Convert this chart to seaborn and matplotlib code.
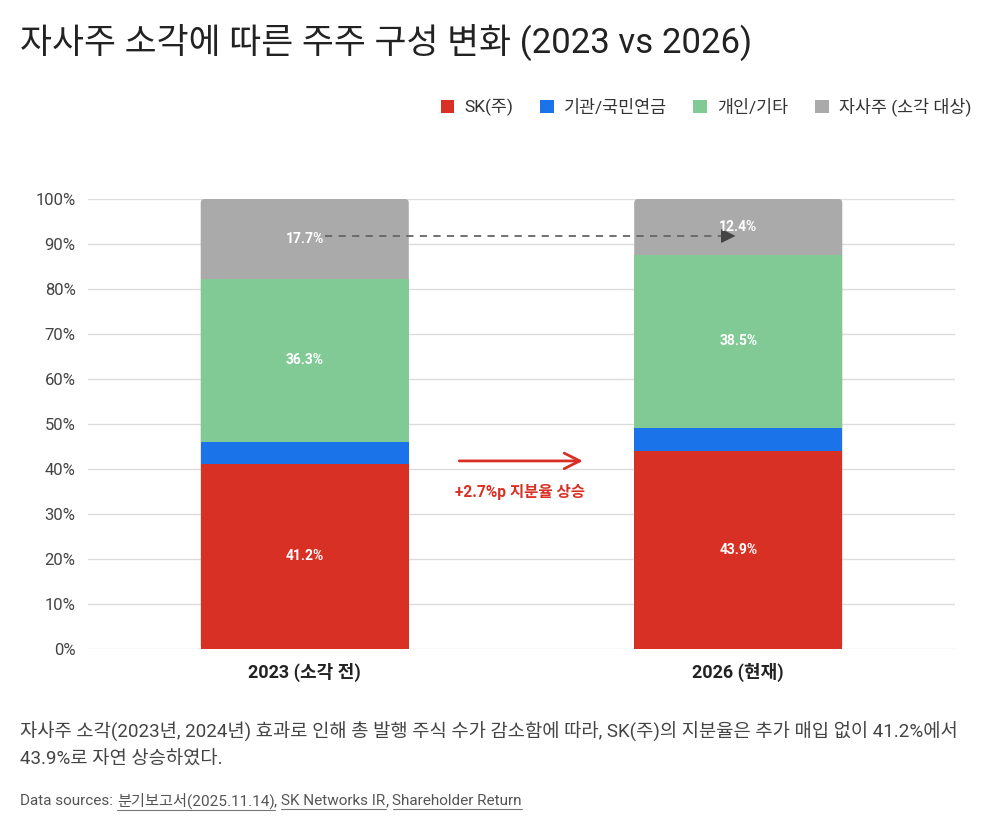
import matplotlib
matplotlib.use("Agg")
import matplotlib.pyplot as plt
from matplotlib.patches import Patch, FancyBboxPatch
from matplotlib.lines import Line2D
import seaborn as sns
import pandas as pd

# shareholder composition (%)
years = ["2023 (소각 전)", "2026 (현재)"]
sk = [41.2, 43.9]
inst = [4.8, 5.2]
retail = [36.3, 38.5]
treasury = [17.7, 12.4]

series_names = ["SK(주)", "기관/국민연금", "개인/기타", "자사주 (소각 대상)"]
colors = ["#d93025", "#1a73e8", "#81c995", "#aaaaaa"]
yticks = [0, 10, 20, 30, 40, 50, 60, 70, 80, 90, 100]

sns.set_theme(style="white")
plt.rcParams["font.family"] = ["Roboto", "Noto Sans CJK KR", "DejaVu Sans"]

df = pd.DataFrame({"year": years, "sk": sk, "inst": inst, "retail": retail, "treasury": treasury})
df["c1"] = df["sk"]
df["c2"] = df["c1"] + df["inst"]
df["c3"] = df["c2"] + df["retail"]
df["c4"] = df["c3"] + df["treasury"]

fig = plt.figure(figsize=(10, 8.31), dpi=100)
ax = fig.add_axes([0.088, 0.219, 0.867, 0.5415])

# stacked bars drawn as overlapping cumulative totals, tallest first
for i, (col, color) in enumerate(zip(["c4", "c3", "c2", "c1"], colors[::-1])):
    n_before = len(ax.patches)
    sns.barplot(data=df, x="year", y=col, color=color, width=0.48, ax=ax,
                saturation=1, linewidth=0, zorder=2)
    if i == 0:
        # round the top corners of the topmost segment
        for p in ax.patches[n_before:]:
            p.set_visible(False)
            ax.add_patch(FancyBboxPatch(
                (p.get_x(), p.get_y()), p.get_width(), p.get_height(),
                boxstyle="round,pad=0,rounding_size=0.009", mutation_aspect=96,
                facecolor=color, edgecolor="none", zorder=2))

ax.set_xlim(-0.5, 1.5)
ax.set_ylim(0, 100)
ax.set_yticks(yticks)
ax.set_yticklabels([f"{v}%" for v in yticks])
ax.set_xlabel("")
ax.set_ylabel("")
ax.set_axisbelow(True)
ax.yaxis.grid(True, color="#dcdcdc", linewidth=1)
for s in ax.spines.values():
    s.set_visible(False)
ax.tick_params(axis="y", length=0, pad=9, labelsize=12, labelcolor="#444444")
ax.tick_params(axis="x", length=0, pad=10, labelsize=13, labelcolor="#222222")
for t in ax.get_xticklabels():
    t.set_fontweight("bold")

# segment labels
for i in range(len(years)):
    for bottom, val in [(0, sk[i]), (sk[i] + inst[i], retail[i]),
                        (sk[i] + inst[i] + retail[i], treasury[i])]:
        ax.text(i, bottom + val / 2, f"{val}%", ha="center", va="center",
                color="white", fontsize=10, fontweight="bold", zorder=5)

# dashed arrow linking the treasury shares
ax.plot([0.047, 0.975], [91.8, 91.8], color="#666666", lw=1.3,
        linestyle=(0, (4, 3.5)), zorder=4)
ax.annotate("", xy=(1.0, 91.8), xytext=(0.97, 91.8),
            arrowprops=dict(arrowstyle="-|>", color="#444444", lw=1,
                            mutation_scale=22), zorder=4)

# red arrow and note
ax.annotate("", xy=(0.648, 41.8), xytext=(0.35, 41.8),
            arrowprops=dict(arrowstyle="->", color="#d93025", lw=2,
                            mutation_scale=28), zorder=4)
ax.text(0.497, 34.9, "+2.7%p 지분율 상승", ha="center", va="center",
        color="#d93025", fontsize=11.2, fontweight="bold")

# legend
handles = [Patch(facecolor=c, edgecolor="none") for c in colors]
fig.legend(handles, series_names, loc="center right", bbox_to_anchor=(0.987, 1 - 107 / 831),
           ncol=4, frameon=False, fontsize=12.5, handlelength=0.8, handleheight=0.8,
           handletextpad=0.6, columnspacing=1.5, labelcolor="#333333")

# title and notes
fig.text(0.02, 1 - 42 / 831, "자사주 소각에 따른 주주 구성 변화 (2023 vs 2026)",
         fontsize=25, color="#222222", va="center")
fig.text(0.02, 1 - 731 / 831,
         "자사주 소각(2023년, 2024년) 효과로 인해 총 발행 주식 수가 감소함에 따라, SK(주)의 지분율은 추가 매입 없이 41.2%에서",
         fontsize=13.5, color="#444444", va="center")
fig.text(0.02, 1 - 760 / 831, "43.9%로 자연 상승하였다.",
         fontsize=13.5, color="#444444", va="center")

# data sources line with underlined links
renderer = fig.canvas.get_renderer()
pieces = [("Data sources: ", False), ("분기보고서(2025.11.14)", True), (", ", False),
          ("SK Networks IR", True), (", ", False), ("Shareholder Return", True)]
x = 0.02
y = 1 - 801 / 831
for txt, link in pieces:
    t = fig.text(x, y, txt, fontsize=11, color="#555555", va="center")
    bb = t.get_window_extent(renderer=renderer)
    x0, x1 = bb.x0 / fig.bbox.width, bb.x1 / fig.bbox.width
    if link:
        uy = (bb.y0 - 1) / fig.bbox.height
        fig.add_artist(Line2D([x0, x1], [uy, uy], color="#777777", lw=0.8))
    x = x1

fig.savefig("out.png", dpi=100, facecolor="white")
